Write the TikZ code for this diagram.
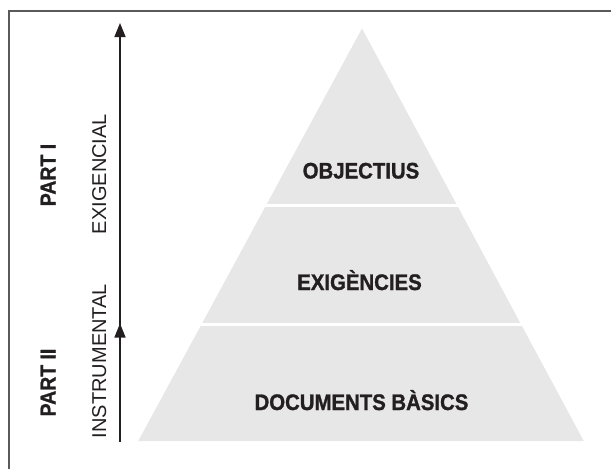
\documentclass[tikz,border=0pt]{standalone}
\usepackage{fontspec}
\setmainfont{Liberation Sans}
\newfontfamily\condfont[FakeStretch=0.905, BoldFeatures={FakeBold=1.2}]{Liberation Sans}
\usetikzlibrary{arrows.meta}
\definecolor{pyrgray}{RGB}{230,231,230}
\definecolor{ink}{RGB}{35,31,32}
\definecolor{framegray}{RGB}{90,90,90}
\tikzset{
  level/.style={inner sep=0pt, anchor=base, text=ink, font=\condfont\fontsize{22.5}{24}\selectfont\bfseries},
  partlbl/.style={inner sep=0pt, anchor=base, rotate=90, text=ink, font=\condfont\fontsize{21.5}{24}\selectfont\bfseries},
  kindlbl/.style={inner sep=0pt, anchor=base, rotate=90, text=ink, font=\fontsize{20}{22}\selectfont},
  axis/.style={draw=ink, line width=1.5pt, -{Triangle[width=11pt,length=14pt]}},
  sep/.style={draw=white, line width=3.5pt}
}
\begin{document}
\begin{tikzpicture}[x=1pt,y=-1pt]
\useasboundingbox (0,0) rectangle (611,469);
% frame
\draw[framegray, line width=1.2pt] (9,469) -- (9,11) -- (611,11);
% pyramid
\coordinate (apex) at (362,28);
\coordinate (bl) at (138,441);
\coordinate (br) at (584,441);
\fill[pyrgray] (apex) -- (br) -- (bl) -- cycle;
\coordinate (s1l) at (250,205.5);
\coordinate (s1r) at (480,205.5);
\coordinate (s2l) at (190,324.5);
\coordinate (s2r) at (540,324.5);
\draw[sep] (s1l) -- (s1r);
\draw[sep] (s2l) -- (s2r);
% fix overshoot of separators outside pyramid
\fill[white] (apex) -- (br) -- (611,441) -- (611,28) -- cycle;
\fill[white] (apex) -- (bl) -- (130,441) -- (130,28) -- cycle;
% level labels
\node[level] (obj) at (361,178.5) {OBJECTIUS};
\node[level] (exi) at (359.5,290) {EXIGÈNCIES};
\node[level] (doc) at (361.5,410) {DOCUMENTS BÀSICS};
% axis
\coordinate (abot) at (120,441.5);
\coordinate (amid) at (120,323.5);
\coordinate (atop) at (120,23);
\draw[axis] (abot) -- (atop);
\draw[axis] (abot) -- (amid);
% side labels
\node[partlbl] (p1) at (55.5,175) {PART I};
\node[partlbl] (p2) at (55.5,382.5) {PART II};
\node[kindlbl] (k1) at (106,174) {EXIGENCIAL};
\node[kindlbl] (k2) at (106,361) {INSTRUMENTAL};
\end{tikzpicture}
\end{document}
